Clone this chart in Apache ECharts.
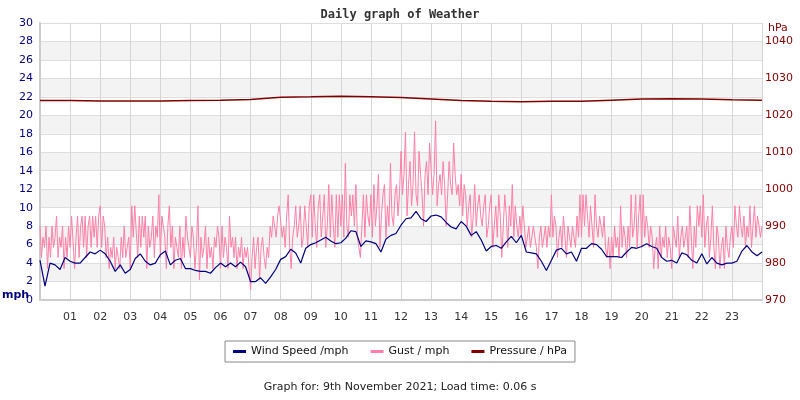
<!DOCTYPE html>
<html><head><meta charset="utf-8">
<script src="https://cdn.jsdelivr.net/npm/echarts@6/dist/echarts.min.js"></script>
<style>html,body{margin:0;padding:0;background:#fff}#c{width:800px;height:400px}</style>
</head><body><div id="c"></div>
<script>
// Hour tick labels
const hourLabels = ['01','02','03','04','05','06','07','08','09','10','11','12','13','14','15','16','17','18','19','20','21','22','23'];
// Wind speed (mph), every 10 minutes from 00:00 to 24:00
const windStepMin = 10;
const windSpeed = [
 4.3,1.5,4.0,3.8,3.3,4.6, 4.2,4.0,4.0,4.6,5.2,5.0, 5.4,5.0,4.2,3.1,3.8,2.9, 3.3,4.5,5.0,4.2,3.8,4.0,
 4.9,5.3,3.8,4.3,4.5,3.4, 3.4,3.2,3.1,3.1,2.9,3.5, 4.0,3.6,4.0,3.6,4.1,3.6, 2.0,2.0,2.4,1.8,2.5,3.3,
 4.4,4.7,5.5,5.1,4.0,5.6, 6.0,6.2,6.5,6.8,6.4,6.1, 6.2,6.7,7.5,7.4,5.8,6.4, 6.3,6.1,5.2,6.6,7.0,7.2,
 8.1,8.8,8.9,9.6,8.8,8.5, 9.1,9.2,9.0,8.4,7.9,7.7, 8.5,8.0,7.0,7.4,6.5,5.3, 5.8,5.9,5.6,6.3,6.9,6.2,
 7.0,5.2,5.1,5.0,4.2,3.2, 4.3,5.4,5.6,5.0,5.2,4.2, 5.6,5.6,6.1,6.0,5.5,4.7, 4.7,4.7,4.6,5.2,5.7,5.6,
 5.8,6.1,5.8,5.6,4.6,4.2, 4.3,4.0,5.1,4.9,4.3,4.0, 5.0,3.9,4.6,4.0,3.8,4.0, 4.0,4.2,5.3,5.9,5.2,4.8,
 5.2
];
// Gust (mph), every 3 minutes from 00:00 to 24:00 (one row per hour)
const gustStepMin = 3;
const gust = [
 8.0,4.6,6.8,5.7,8.0,3.4,6.8,4.6,8.0,5.7,6.8,9.1,4.6,6.8,5.7,8.0,3.4,6.8,4.6,8.0,
 5.7,9.1,9.1,3.4,6.8,9.1,4.6,8.0,9.1,5.7,9.1,4.6,8.0,9.1,5.7,9.1,6.8,9.1,5.7,9.1,
 10.2,5.7,9.1,8.0,4.6,6.8,3.4,5.7,4.6,6.8,3.4,5.7,4.6,3.4,6.8,4.6,8.0,4.6,5.7,6.8,
 3.4,10.2,6.8,10.2,10.2,4.6,9.1,5.7,9.1,6.8,9.1,3.4,8.0,5.7,6.8,9.1,4.6,8.0,6.8,11.4,
 4.6,9.1,9.1,6.8,3.4,8.0,10.2,5.7,8.0,3.4,6.8,5.7,4.6,8.0,3.4,6.8,4.6,9.1,6.8,5.7,
 4.6,8.0,6.8,3.4,5.7,10.2,2.2,6.8,4.6,5.7,8.0,3.4,6.8,4.6,5.7,3.4,6.8,5.7,8.0,6.8,
 3.4,8.0,4.6,6.8,5.7,3.4,9.1,5.7,6.8,4.6,6.8,3.4,5.7,4.6,6.8,3.4,5.7,4.6,5.7,3.4,
 1.1,4.6,6.8,3.4,5.7,6.8,2.2,5.7,6.8,4.6,3.4,5.7,4.6,8.0,6.8,9.1,8.0,6.8,9.1,10.2,
 10.2,6.8,8.0,5.7,9.1,11.4,5.7,3.4,6.8,8.0,10.2,6.8,8.0,10.2,5.7,6.8,10.2,8.0,5.7,10.2,
 11.4,6.8,11.4,8.0,5.7,10.2,11.4,6.8,9.1,11.4,5.7,8.0,12.5,6.8,11.4,8.0,5.7,11.4,6.8,11.4,
 8.0,11.4,6.8,14.8,8.0,6.8,11.4,9.1,11.4,8.0,12.5,6.8,5.7,4.6,8.0,11.4,6.8,11.4,9.1,8.0,
 11.4,6.8,12.5,8.0,10.2,13.6,5.7,9.1,11.4,12.5,6.8,10.2,8.0,14.8,9.1,8.0,11.4,12.5,9.1,11.4,
 16.1,11.4,13.6,18.2,9.1,12.5,15.0,10.2,12.5,18.2,11.4,10.2,16.1,13.6,11.4,8.0,13.6,15.0,11.4,17.0,
 17.0,11.4,13.6,19.4,10.2,12.5,13.6,11.4,15.0,12.5,8.0,11.4,15.0,12.5,11.4,17.0,13.6,11.4,12.5,10.2,
 13.6,9.1,12.5,11.4,8.0,10.2,11.4,6.8,9.1,12.5,8.0,10.2,11.4,9.1,8.0,10.2,11.4,6.8,8.0,10.2,
 11.4,5.7,8.0,10.2,6.8,11.4,9.1,4.6,8.0,11.4,9.1,5.7,10.2,8.0,12.5,6.8,10.2,8.0,6.8,9.1,
 6.8,10.2,8.0,5.7,6.8,8.0,5.7,6.8,8.0,6.8,5.7,3.4,6.8,8.0,5.7,6.8,8.0,5.7,8.0,6.8,
 11.4,6.8,9.1,8.0,4.6,6.8,8.0,5.7,9.1,6.8,4.6,8.0,6.8,5.7,8.0,6.8,5.7,9.1,6.8,11.4,
 6.8,11.4,8.0,11.4,9.1,6.8,10.2,8.0,5.7,11.4,8.0,6.8,9.1,8.0,6.8,9.1,5.7,4.6,6.8,3.4,
 6.8,4.6,8.0,5.7,6.8,4.6,10.2,5.7,8.0,6.8,4.6,8.0,5.7,11.4,6.8,8.0,11.4,5.7,9.1,11.4,
 5.7,11.4,6.8,9.1,8.0,5.7,8.0,6.8,3.4,5.7,6.8,3.4,8.0,4.6,6.8,5.7,8.0,4.6,6.8,5.7,
 3.4,8.0,6.8,5.7,9.1,4.6,6.8,8.0,5.7,6.8,8.0,4.6,10.2,6.8,3.4,8.0,5.7,10.2,8.0,10.2,
 6.8,11.4,5.7,8.0,9.1,4.6,6.8,10.2,5.7,3.4,8.0,6.8,3.4,5.7,6.8,3.4,8.0,5.7,4.6,6.8,
 8.0,5.7,10.2,8.0,6.8,10.2,8.0,6.8,9.1,5.7,8.0,6.8,10.2,5.7,8.0,10.2,6.8,9.1,8.0,6.8,
 8.0
];
// Pressure (hPa), hourly from 00:00 to 24:00
const pressureStepMin = 60;
const pressure = [
 1024.0,1024.0,1023.9,1023.9,1023.9,1024.0,1024.1,1024.3,1024.9,1025.0,1025.2,1025.0,
 1024.8,1024.4,1024.0,1023.8,1023.7,1023.8,1023.8,1024.1,1024.4,1024.5,1024.4,1024.2,1024.1
];

const toXY = (arr, stepMin) => arr.map((v, i) => [i * stepMin / 60, v]);

const chart = echarts.init(document.getElementById('c'), null, {renderer: 'canvas'});
const font = 'DejaVu Sans';
chart.setOption({
  animation: false,
  backgroundColor: '#ffffff',
  title: {
    text: 'Daily graph of Weather', left: 'center', top: 4,
    textStyle: {fontFamily: 'DejaVu Sans Mono', fontSize: 12, fontWeight: 'bold', color: '#333'}
  },
  legend: {
    top: 341, left: 'center',
    data: ['Wind Speed /mph', 'Gust / mph', 'Pressure / hPa'],
    icon: 'rect', itemWidth: 13, itemHeight: 3, itemGap: 22,
    borderColor: '#888', borderWidth: 1, padding: [5, 8, 5, 8],
    textStyle: {fontFamily: font, fontSize: 11, color: '#111'}
  },
  grid: {left: 40, right: 38, top: 23, bottom: 100, containLabel: false},
  xAxis: {
    type: 'value', min: 0, max: 24, interval: 1,
    axisLine: {lineStyle: {color: '#cccccc', width: 2}},
    axisTick: {show: false},
    splitLine: {show: true, lineStyle: {color: '#d6d6d6', width: 1}},
    axisLabel: {
      fontFamily: font, fontSize: 11, color: '#333', margin: 12,
      formatter: v => (v >= 1 && v <= 23) ? hourLabels[v - 1] : ''
    }
  },
  yAxis: [
    {
      type: 'value', min: 0, max: 30, interval: 2,
      axisLine: {show: true, lineStyle: {color: '#cccccc', width: 2}},
      axisTick: {show: false},
      splitLine: {lineStyle: {color: '#dddddd', width: 1}},
      splitArea: {show: true, areaStyle: {color: ['#ffffff', '#f3f3f3']}},
      axisLabel: {fontFamily: font, fontSize: 11, color: '#000080', margin: 7}
    },
    {
      type: 'value', min: 970, max: 1045, interval: 10, position: 'right',
      axisLine: {show: false}, axisTick: {show: false}, splitLine: {show: false},
      axisLabel: {fontFamily: font, fontSize: 11, color: '#800000', margin: 3, showMaxLabel: false,
        formatter: v => (v % 10 === 0 ? String(v) : '')}
    }
  ],
  graphic: [
    {type: 'text', left: 2, top: 290, style: {text: 'mph', font: 'bold 11px DejaVu Sans', fill: '#000080'}},
    {type: 'text', left: 768, top: 23, style: {text: 'hPa', font: '11px DejaVu Sans', fill: '#800000'}},
    {type: 'text', left: 'center', top: 382, style: {text: 'Graph for: 9th November 2021; Load time: 0.06 s', font: '11px DejaVu Sans', fill: '#222'}}
  ],
  series: [
    {name: 'Wind Speed /mph', type: 'line', yAxisIndex: 0, data: toXY(windSpeed, windStepMin),
      showSymbol: false, z: 4, lineStyle: {color: '#000080', width: 1.2}, itemStyle: {color: '#000080'}},
    {name: 'Gust / mph', type: 'line', yAxisIndex: 0, data: toXY(gust, gustStepMin),
      showSymbol: false, z: 3, lineStyle: {color: '#ff7fa8', width: 1}, itemStyle: {color: '#ff7fa8'}},
    {name: 'Pressure / hPa', type: 'line', yAxisIndex: 1, data: toXY(pressure, pressureStepMin),
      showSymbol: false, z: 3, lineStyle: {color: '#800000', width: 1.5}, itemStyle: {color: '#800000'}}
  ]
});
</script></body></html>
